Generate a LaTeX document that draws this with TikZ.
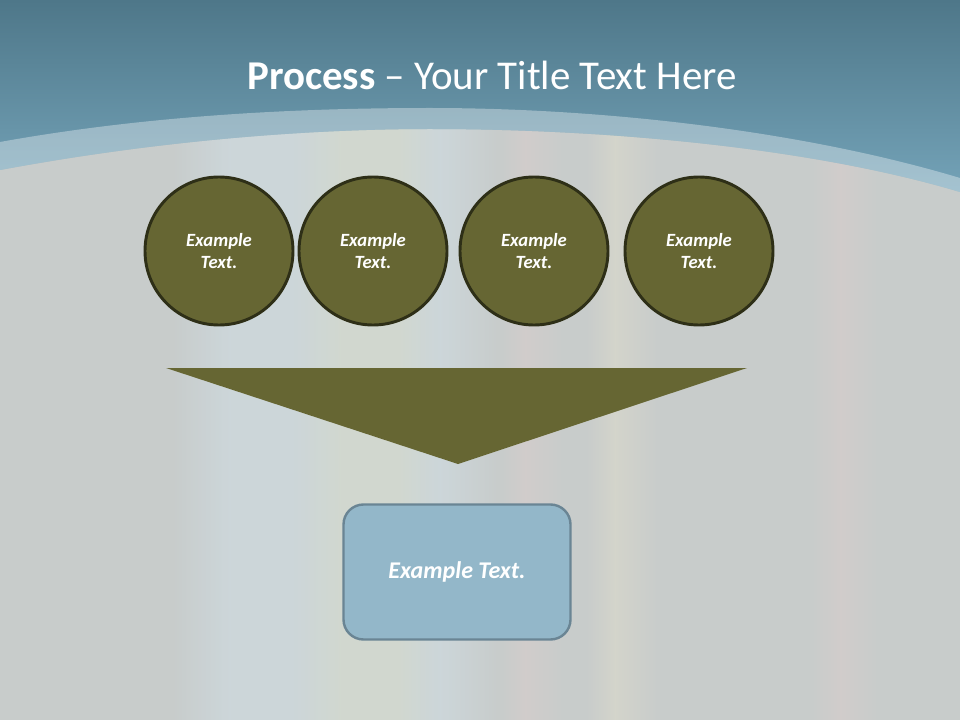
\documentclass[tikz,border=0pt]{standalone}
\usepackage{fontspec}
\setmainfont{Carlito}
\begin{document}
\begin{tikzpicture}[x=0.75pt,y=-0.75pt,
  circ/.style={circle,minimum size=148*0.75pt,inner sep=0pt,fill=olivefill,draw=olivedraw,line width=2.2pt,text=white,font=\fontsize{14}{17}\selectfont\bfseries\itshape,align=center},
  boxnode/.style={rectangle,rounded corners=15pt,minimum width=227*0.75pt,minimum height=135*0.75pt,fill=boxfill,draw=boxdraw,line width=1.8pt,text=white,font=\fontsize{18}{22}\selectfont\bfseries\itshape},
  streak/.style={opacity=0.45}]
\definecolor{olivefill}{HTML}{666633}
\definecolor{olivedraw}{HTML}{2E2F17}
\definecolor{boxfill}{HTML}{93B7C9}
\definecolor{boxdraw}{HTML}{6A8594}
\definecolor{bggray}{HTML}{C8CCCB}
\definecolor{sblue}{HTML}{D2E3EC}
\definecolor{sgreen}{HTML}{DCE6D6}
\definecolor{sred}{HTML}{DCCDCD}
\definecolor{syellow}{HTML}{E2DFCC}
\definecolor{bandtop}{HTML}{4E7789}
\definecolor{bandbot}{HTML}{74A3B8}
\useasboundingbox (0,0) rectangle (960,720);
% background
\fill[bggray] (0,0) rectangle (960,720);
% streaks (soft edges)
\shade[streak,left color=bggray,right color=sblue] (170,0) rectangle (230,720);
\fill[streak,sblue] (230,0) rectangle (290,720);
\shade[streak,left color=sblue,right color=sgreen] (290,0) rectangle (340,720);
\fill[streak,sgreen] (340,0) rectangle (400,720);
\shade[streak,left color=sgreen,right color=sblue] (400,0) rectangle (440,720);
\shade[streak,left color=sblue,right color=bggray] (440,0) rectangle (500,720);
\shade[streak,left color=bggray,right color=sred] (500,0) rectangle (525,720);
\shade[streak,left color=sred,right color=bggray] (525,0) rectangle (565,720);
\shade[streak,left color=bggray,right color=syellow] (585,0) rectangle (615,720);
\shade[streak,left color=syellow,right color=bggray] (615,0) rectangle (660,720);
\shade[streak,left color=bggray,right color=sred] (810,0) rectangle (840,720);
\shade[streak,left color=sred,right color=bggray] (840,0) rectangle (880,720);
% top band
\shade[top color=bandtop,bottom color=bandbot]
  (0,0) -- (960,0) -- (960,192) .. controls (820,150) and (620,129) .. (430,129)
  .. controls (300,129) and (150,142) .. (0,170) -- cycle;
% light band
\fill[white,opacity=0.35]
  (0,142) .. controls (150,115) and (300,108) .. (430,108)
  .. controls (600,108) and (800,130) .. (960,178) -- (960,192)
  .. controls (820,150) and (620,129) .. (430,129)
  .. controls (300,129) and (150,142) .. (0,170) -- cycle;
% title
\node[text=white,font=\fontsize{30.7}{36}\selectfont] (title) at (492,75) {\textbf{Process} -- Your Title Text Here};
% circles
\node[circ] (c1) at (219,251) {Example\\Text.};
\node[circ] (c2) at (373,251) {Example\\Text.};
\node[circ] (c3) at (534,251) {Example\\Text.};
\node[circ] (c4) at (699,251) {Example\\Text.};
% funnel triangle
\fill[olivefill] (166,368) -- (747,368) -- (458,464) -- cycle;
% result box
\node[boxnode] (res) at (457,572) {Example Text.};
\end{tikzpicture}
\end{document}
